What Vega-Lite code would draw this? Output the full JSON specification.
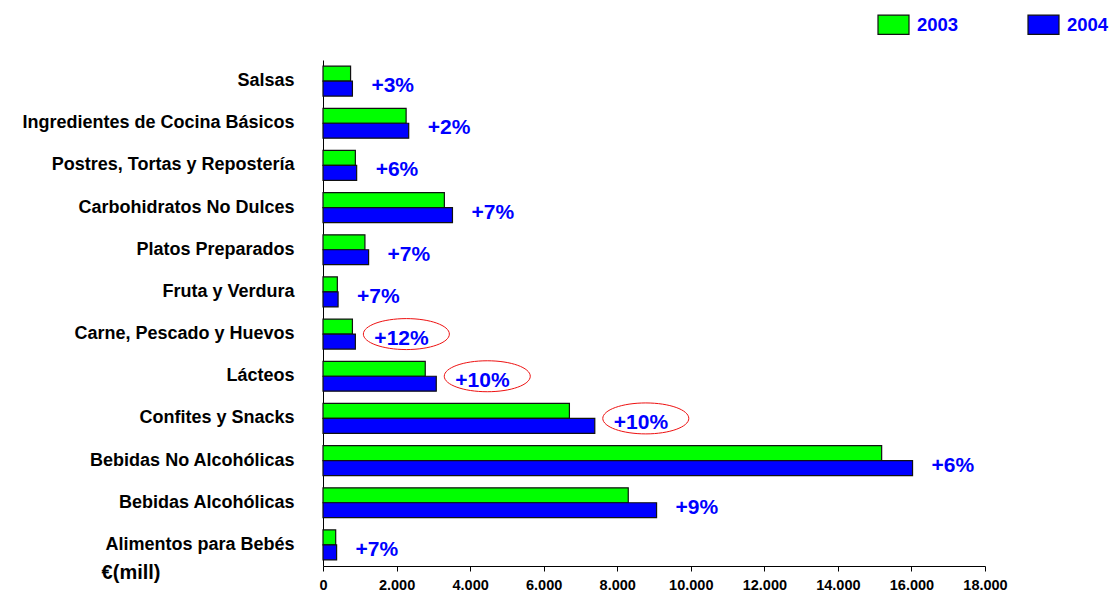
{
  "$schema": "https://vega.github.io/schema/vega-lite/v6.json",
  "autosize": {"type": "none"},
  "padding": {"left": 323, "top": 60, "right": 128, "bottom": 28},
  "width": 662,
  "height": 506,
  "background": "white",
  "data": {
    "values": [
      {"cat": "Salsas", "2003": 750, "2004": 800, "change": "+3%", "highlight": false},
      {"cat": "Ingredientes de Cocina Básicos", "2003": 2260, "2004": 2330, "change": "+2%", "highlight": false},
      {"cat": "Postres, Tortas y Repostería", "2003": 880, "2004": 915, "change": "+6%", "highlight": false},
      {"cat": "Carbohidratos No Dulces", "2003": 3300, "2004": 3520, "change": "+7%", "highlight": false},
      {"cat": "Platos Preparados", "2003": 1140, "2004": 1240, "change": "+7%", "highlight": false},
      {"cat": "Fruta y Verdura", "2003": 390, "2004": 410, "change": "+7%", "highlight": false},
      {"cat": "Carne, Pescado y Huevos", "2003": 800, "2004": 880, "change": "+12%", "highlight": true},
      {"cat": "Lácteos", "2003": 2780, "2004": 3080, "change": "+10%", "highlight": true},
      {"cat": "Confites y Snacks", "2003": 6700, "2004": 7390, "change": "+10%", "highlight": true},
      {"cat": "Bebidas No Alcohólicas", "2003": 15190, "2004": 16030, "change": "+6%", "highlight": false},
      {"cat": "Bebidas Alcohólicas", "2003": 8300, "2004": 9070, "change": "+9%", "highlight": false},
      {"cat": "Alimentos para Bebés", "2003": 345, "2004": 370, "change": "+7%", "highlight": false}
    ]
  },
  "encoding": {
    "y": {
      "field": "cat",
      "type": "nominal",
      "sort": null,
      "scale": {"paddingInner": 0.29, "paddingOuter": 0.145},
      "axis": {
        "title": "€(mill)",
        "titleAngle": 0,
        "titleAlign": "right",
        "titleBaseline": "middle",
        "titleX": -163,
        "titleY": 512,
        "titleFont": "Liberation Sans",
        "titleFontSize": 20,
        "titleFontWeight": "bold",
        "titleColor": "#000000",
        "labelFont": "Liberation Sans",
        "labelFontSize": 18,
        "labelFontWeight": "bold",
        "labelColor": "#000000",
        "labelPadding": 29,
        "labelLimit": 400,
        "ticks": false,
        "domainColor": "#000000",
        "domainWidth": 1
      }
    }
  },
  "layer": [
    {
      "transform": [{"fold": ["2003", "2004"], "as": ["year", "value"]}],
      "mark": {"type": "bar", "stroke": "#111111", "strokeWidth": 1.2},
      "encoding": {
        "x": {
          "field": "value",
          "type": "quantitative",
          "scale": {"domain": [0, 18000]},
          "axis": {
            "title": null,
            "values": [0, 2000, 4000, 6000, 8000, 10000, 12000, 14000, 16000, 18000],
            "format": ",d",
            "labelExpr": "replace(datum.label, ',', '.')",
            "labelFlush": false,
            "labelOverlap": false,
            "labelFont": "Liberation Sans",
            "labelFontSize": 14.5,
            "labelFontWeight": "bold",
            "labelColor": "#000000",
            "labelPadding": 7,
            "tickColor": "#000000",
            "tickSize": 5,
            "domainColor": "#000000",
            "grid": false
          }
        },
        "yOffset": {"field": "year", "type": "nominal", "scale": {"paddingInner": 0}},
        "color": {
          "field": "year",
          "type": "nominal",
          "scale": {"domain": ["2003", "2004"], "range": ["#00FF00", "#0000FF"]},
          "legend": {
            "title": null,
            "orient": "none",
            "direction": "horizontal",
            "legendX": 554,
            "legendY": -52,
            "padding": 0,
            "symbolType": "M-1,-0.62H1V0.62H-1Z",
            "symbolSize": 961,
            "symbolStrokeColor": "#111111",
            "symbolStrokeWidth": 1.2,
            "labelFont": "Liberation Sans",
            "labelFontSize": 18.5,
            "labelFontWeight": "bold",
            "labelColor": "#0000FF",
            "labelOffset": 7,
            "columnPadding": 66
          }
        }
      }
    },
    {
      "mark": {"type": "text", "align": "left", "baseline": "middle", "dx": 19, "dy": 5, "font": "Liberation Sans", "fontSize": 21, "fontWeight": "bold", "color": "#0000FF"},
      "encoding": {
        "x": {"field": "2004", "type": "quantitative"},
        "text": {"field": "change"}
      }
    },
    {
      "transform": [{"filter": "datum.highlight"}],
      "mark": {"type": "point", "shape": "M-1,0A1,0.36,0,1,0,1,0A1,0.36,0,1,0,-1,0Z", "size": 7396, "filled": false, "stroke": "#EE1111", "strokeWidth": 1, "opacity": 1, "xOffset": 51},
      "encoding": {
        "x": {"field": "2004", "type": "quantitative"}
      }
    }
  ],
  "config": {"view": {"stroke": null}}
}
